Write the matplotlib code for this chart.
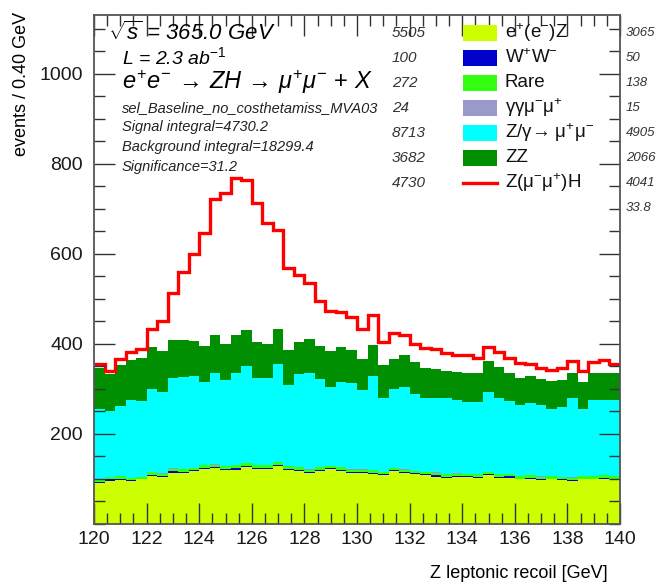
import numpy as np
import matplotlib.pyplot as plt
from matplotlib.patches import Rectangle
from matplotlib.ticker import MultipleLocator

plt.rcParams['font.family'] = ['Liberation Sans', 'DejaVu Sans']
plt.rcParams['mathtext.fontset'] = 'custom'
plt.rcParams['mathtext.rm'] = 'Liberation Sans'
plt.rcParams['mathtext.it'] = 'Liberation Sans:italic'
plt.rcParams['mathtext.bf'] = 'Liberation Sans:bold'

# histogram binning: 120-140 GeV, 0.4 GeV per bin
x_lo = 120.0
bin_width = 0.4
n_bins = 50

# events per bin (bottom of stack first)
eeZ = [92, 96, 98, 95, 99, 107, 105, 114, 114, 118, 122, 125, 121, 121, 127, 123, 123, 129, 121, 118,
       114, 118, 123, 118, 114, 113, 111, 108, 118, 113, 111, 108, 105, 103, 105, 105, 103, 108, 103, 103,
       99, 101, 98, 99, 98, 96, 99, 99, 101, 99]
ww = [2, 3, 2, 2, 1, 2, 2, 3, 2, 2, 2, 1, 2, 3, 2, 2, 2, 3, 2, 2, 2, 2, 1, 2, 2,
      3, 2, 2, 2, 2, 2, 2, 3, 2, 2, 1, 2, 2, 2, 3, 2, 2, 2, 2, 1, 2, 2, 2, 2, 2]
rare = [5, 5, 6, 5, 5, 6, 5, 6, 6, 5, 6, 6, 5, 6, 6, 5, 6, 6, 5, 6, 5, 6, 5, 6, 5,
        5, 6, 5, 5, 6, 5, 5, 6, 5, 5, 5, 6, 5, 5, 5, 5, 6, 5, 5, 5, 5, 6, 5, 5, 5]
gagamumu = [0.5, 0.4, 0.6, 0.5, 0.5, 0.4, 0.5, 0.6, 0.5, 0.5, 0.4, 0.5, 0.5, 0.6, 0.5, 0.5, 0.4,
            0.5, 0.5, 0.5, 0.6, 0.5, 0.4, 0.5, 0.5, 0.5, 0.5, 0.4, 0.5, 0.5, 0.5, 0.6, 0.5, 0.4,
            0.5, 0.5, 0.5, 0.5, 0.4, 0.5, 0.5, 0.5, 0.6, 0.5, 0.4, 0.5, 0.5, 0.5, 0.5, 0.4]
zgamma = [155, 146, 156, 172, 168, 185, 180, 200, 204, 204, 186, 204, 192, 205, 215, 193, 192, 217, 181, 206,
          215, 195, 175, 189, 192, 176, 210, 165, 174, 183, 170, 164, 166, 169, 162, 159, 159, 178, 169, 161,
          157, 159, 159, 150, 156, 176, 147, 168, 167, 169]
zz = [92, 83, 91, 90, 95, 92, 91, 86, 83, 78, 79, 83, 79, 85, 80, 81, 77, 78, 78, 73,
      74, 74, 80, 77, 73, 70, 68, 74, 68, 70, 71, 68, 65, 61, 63, 65, 66, 68, 70, 64,
      62, 60, 58, 61, 60, 56, 60, 61, 60, 60]
signal = [8, 6, 14, 18, 20, 41, 68, 104, 151, 193, 252, 303, 335, 349, 333, 309, 269, 219, 182, 148,
          124, 101, 89, 79, 73, 66, 66, 49, 56, 45, 41, 43, 43, 39, 38, 39, 32, 31, 33, 33,
          33, 28, 25, 25, 27, 27, 25, 25, 28, 21]

labels = [r'e$^{+}$(e$^{-}$)Z', r'W$^{+}$W$^{-}$', 'Rare', r'γγμ$^{-}$μ$^{+}$',
          r'Z/γ→ μ$^{+}$μ$^{-}$', 'ZZ', r'Z(μ$^{-}$μ$^{+}$)H']
colors = ['#ccff00', '#0000cc', '#33ff11', '#9999cc', '#00ffff', '#008f00', '#ff0000']
yields_all = ['5505', '100', '272', '24', '8713', '3682', '4730']
yields_win = ['3065', '50', '138', '15', '4905', '2066', '4041', '33.8']

W, H = 658, 585
fig = plt.figure(figsize=(W / 100, H / 100), dpi=100)
ax = fig.add_axes([94 / W, 1 - 524 / H, 526 / W, 509 / H])

edges = x_lo + bin_width * np.arange(n_bins + 1)
base = np.zeros(n_bins)
for vals, col in zip([eeZ, ww, rare, gagamumu, zgamma, zz], colors[:6]):
    top = base + np.array(vals, dtype=float)
    ax.stairs(top, edges, baseline=base, fill=True, color=col, lw=0)
    base = top
ax.stairs(base + np.array(signal), edges, baseline=None, color=colors[6], lw=2.4)

ax.set_xlim(120, 140)
ax.set_ylim(0, 1131)
ax.xaxis.set_major_locator(MultipleLocator(2))
ax.xaxis.set_minor_locator(MultipleLocator(0.5))
ax.set_yticks([200, 400, 600, 800, 1000])
ax.yaxis.set_minor_locator(MultipleLocator(50))
ax.tick_params(which='both', direction='in', top=True, right=True, color='#333333', width=1)
ax.tick_params(which='major', length=15, labelsize=14, labelcolor='#1a1a1a')
ax.tick_params(which='minor', length=8)
ax.tick_params(axis='y', pad=8)
ax.tick_params(axis='x', pad=5)
for sp in ax.spines.values():
    sp.set_color('#555555')
    sp.set_linewidth(1.3)


def fx(px):
    return px / W


def fy(py):
    return 1 - py / H


fig.text(fx(22), fy(12), 'events / 0.40 GeV', rotation=90, ha='center', va='top', fontsize=13)
fig.text(fx(608), fy(573), 'Z leptonic recoil [GeV]', ha='right', va='center', fontsize=13)

fig.text(fx(108), fy(33), r'$\sqrt{s}$ = 365.0 GeV', fontsize=16, style='italic', va='center')
fig.text(fx(122), fy(57), r'L = 2.3 ab$^{-1}$', fontsize=14, style='italic', va='center')
fig.text(fx(122), fy(82), r'$e^{+}e^{-}\,\rightarrow\,ZH\,\rightarrow\,\mu^{+}\mu^{-}$ + $X$',
         fontsize=17, va='center')
info = ['sel_Baseline_no_costhetamiss_MVA03', 'Signal integral=4730.2',
        'Background integral=18299.4', 'Significance=31.2']
for i, t in enumerate(info):
    fig.text(fx(122), fy(108 + 19.5 * i), t, fontsize=10.5, style='italic', va='center', color='#222222')

# legend with yields
for i in range(7):
    yc = 33 + 25 * i
    fig.text(fx(392), fy(yc), yields_all[i], fontsize=11, style='italic', va='center', color='#333333')
    if i < 6:
        fig.patches.append(Rectangle((fx(463), fy(yc + 8)), fx(497) - fx(463), (16) / H,
                                     transform=fig.transFigure, facecolor=colors[i], edgecolor='none'))
    else:
        fig.lines.append(plt.Line2D([fx(463), fx(497)], [fy(yc), fy(yc)], transform=fig.transFigure,
                                    color=colors[6], lw=2.4))
    fig.text(fx(505), fy(yc), labels[i], fontsize=13.5, va='center', color='#111111')
for i, t in enumerate(yields_win):
    yc = 33 + 25 * i
    fig.text(fx(626), fy(yc), t, fontsize=9.5, style='italic', va='center', color='#333333')

fig.savefig('out.png', dpi=100)
